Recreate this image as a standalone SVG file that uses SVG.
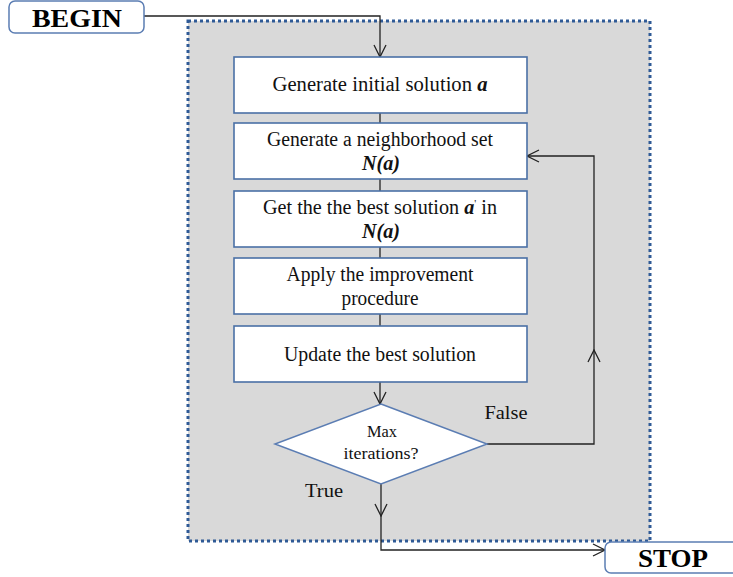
<svg xmlns="http://www.w3.org/2000/svg" width="733" height="577" viewBox="0 0 733 577">
<style>
.term{fill:#fff;stroke:#5b7db3;stroke-width:1.5}
.box{fill:#fff;stroke:#4a70a6;stroke-width:1.6}
.t{font-family:"Liberation Serif","Times New Roman",serif;font-size:20px;fill:#111;text-anchor:middle}
.s{font-size:17px}
.l{font-size:19px}
.tt{font-family:"Liberation Serif","Times New Roman",serif;font-size:25px;font-weight:bold;fill:#000;text-anchor:middle}
.v{font-style:italic;font-weight:bold}
.c{fill:none;stroke:#222;stroke-width:1.3}
</style>
<defs>
<marker id="arr" viewBox="0 0 14 14" refX="13" refY="7" markerWidth="14" markerHeight="14" markerUnits="userSpaceOnUse" orient="auto">
<path d="M1,1 L13,7 L1,13" fill="none" stroke="#222" stroke-width="1.3"/>
</marker>
</defs>
<rect x="188" y="21" width="462" height="520" fill="#d9d9d9" stroke="#2f5a96" stroke-width="3" stroke-dasharray="3 3"/>
<g id="connectors">
<path class="c" d="M144,16 H380 V57" marker-end="url(#arr)"/>
<path class="c" d="M380,113 V123"/>
<path class="c" d="M380,179 V191"/>
<path class="c" d="M380,247 V258"/>
<path class="c" d="M380,314 V326"/>
<path class="c" d="M380,382 V404" marker-end="url(#arr)"/>
<path class="c" d="M487,444 H594 V350" marker-end="url(#arr)"/>
<path class="c" d="M594,350 V156 H527" marker-end="url(#arr)"/>
<path class="c" d="M381,484 V516" marker-end="url(#arr)"/>
<path class="c" d="M381,516 V550 H605" marker-end="url(#arr)"/>
</g>
<g id="begin">
<rect class="term" x="9" y="1" width="135" height="32" rx="6"/>
<text class="tt" x="77" y="27" textLength="90" lengthAdjust="spacingAndGlyphs">BEGIN</text>
</g>
<g id="init">
<rect class="box" x="234" y="57" width="293" height="56"/>
<text class="t" x="380" y="91" textLength="215" lengthAdjust="spacingAndGlyphs">Generate initial solution <tspan class="v">a</tspan></text>
</g>
<g id="neigh">
<rect class="box" x="234" y="123" width="293" height="56"/>
<text class="t" x="380" y="146" textLength="226" lengthAdjust="spacingAndGlyphs">Generate a neighborhood set</text>
<text class="t" x="381" y="170" textLength="38" lengthAdjust="spacingAndGlyphs"><tspan class="v">N(a)</tspan></text>
</g>
<g id="best">
<rect class="box" x="234" y="191" width="293" height="56"/>
<text class="t" x="380" y="214" textLength="234" lengthAdjust="spacingAndGlyphs">Get the the best solution <tspan class="v">a</tspan><tspan dy="-7" style="font-size:11px">'</tspan><tspan dy="7"> in</tspan></text>
<text class="t" x="381" y="238" textLength="38" lengthAdjust="spacingAndGlyphs"><tspan class="v">N(a)</tspan></text>
</g>
<g id="improve">
<rect class="box" x="234" y="258" width="293" height="56"/>
<text class="t" x="380" y="281" textLength="187" lengthAdjust="spacingAndGlyphs">Apply the improvement</text>
<text class="t" x="380" y="305" textLength="77" lengthAdjust="spacingAndGlyphs">procedure</text>
</g>
<g id="update">
<rect class="box" x="234" y="326" width="293" height="56"/>
<text class="t" x="380" y="361" textLength="192" lengthAdjust="spacingAndGlyphs">Update the best solution</text>
</g>
<g id="decision">
<polygon points="381,404 487,444 381,484 275,444" fill="#fff" stroke="#5b7db3" stroke-width="1.5"/>
<text class="t s" x="382" y="437" textLength="30" lengthAdjust="spacingAndGlyphs">Max</text>
<text class="t s" x="381" y="459" textLength="75" lengthAdjust="spacingAndGlyphs">iterations?</text>
</g>
<g id="labels">
<text class="t l" x="506" y="419" textLength="43" lengthAdjust="spacingAndGlyphs">False</text>
<text class="t l" x="324" y="497" textLength="38" lengthAdjust="spacingAndGlyphs">True</text>
</g>
<g id="stop">
<rect class="term" x="605" y="542" width="140" height="31" rx="6"/>
<text class="tt" x="673" y="567" textLength="70" lengthAdjust="spacingAndGlyphs">STOP</text>
</g>
</svg>
